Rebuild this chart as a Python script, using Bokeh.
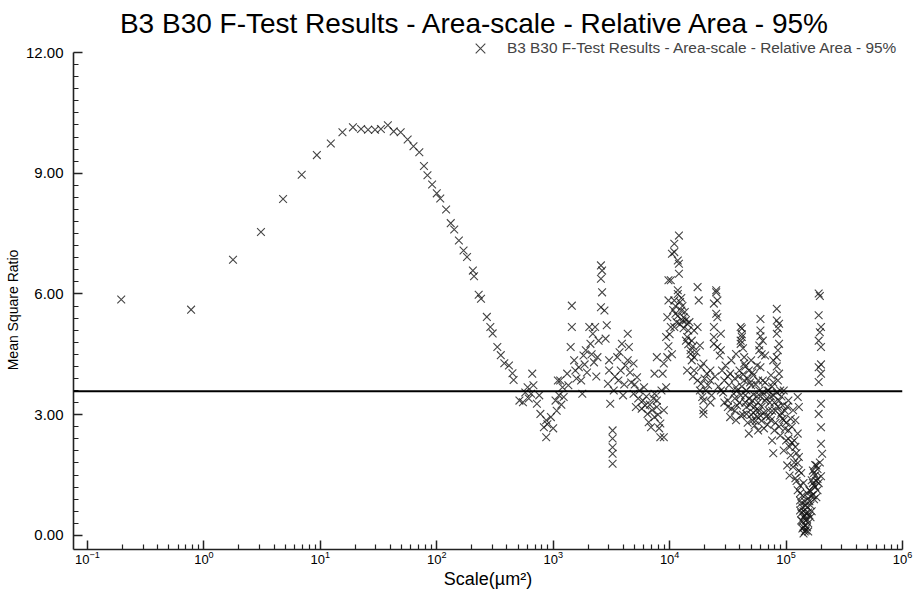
import numpy as np
from bokeh.plotting import figure
from bokeh.models import (Range1d, FixedTicker, LogTickFormatter, PrintfTickFormatter,
                          Span, Label, Legend, LegendItem, ColumnDataSource)
from bokeh.embed import file_html
from bokeh.resources import INLINE

# ---- data: (log10 of scale in um^2, mean square ratio) ----
curve_pts = [(-0.71, 5.86), (-0.11, 5.61), (0.25, 6.85), (0.49, 7.54), (0.68, 8.36), (0.84, 8.96),
             (0.97, 9.45), (1.09, 9.74), (1.19, 10.02), (1.28, 10.14), (1.35, 10.10), (1.41, 10.08),
             (1.47, 10.08), (1.52, 10.10), (1.58, 10.19), (1.63, 10.04), (1.69, 10.02), (1.75, 9.84),
             (1.80, 9.67), (1.85, 9.52), (1.89, 9.18), (1.92, 8.95), (1.96, 8.72), (2.00, 8.50),
             (2.03, 8.37), (2.08, 8.10), (2.12, 7.76), (2.15, 7.60), (2.19, 7.33), (2.23, 7.08),
             (2.26, 6.92), (2.31, 6.58), (2.32, 6.44), (2.36, 5.98), (2.38, 5.88), (2.43, 5.43),
             (2.46, 5.18), (2.48, 5.02), (2.52, 4.68), (2.55, 4.48), (2.58, 4.28), (2.62, 4.22),
             (2.65, 4.03), (2.66, 3.86)]

mid_pts = [(2.71, 3.35), (2.74, 3.31), (2.76, 3.55), (2.78, 3.68), (2.79, 3.40), (2.81, 3.52), (2.82, 4.02),
           (2.83, 3.73), (2.86, 3.27), (2.88, 3.48), (2.89, 3.02), (2.92, 2.69), (2.94, 2.86), (2.94, 2.44),
           (2.95, 2.76), (2.98, 2.94), (3.00, 2.66), (3.02, 3.35), (3.04, 3.85), (3.05, 3.48), (3.03, 3.10),
           (3.07, 3.25), (3.06, 3.85), (3.08, 3.68), (3.09, 3.44), (3.12, 4.02), (3.13, 3.73), (3.15, 4.68),
           (3.16, 5.18), (3.16, 5.71), (3.18, 4.35), (3.19, 4.10), (3.22, 4.18), (3.24, 3.85), (3.25, 3.52),
           (3.26, 4.47), (3.28, 4.60), (3.29, 4.05), (3.31, 5.18), (3.32, 4.76), (3.34, 5.01), (3.35, 4.30),
           (3.36, 5.18), (3.38, 4.43), (3.39, 4.84), (3.41, 6.71), (3.42, 6.58), (3.41, 6.38), (3.42, 6.04),
           (3.41, 5.67), (3.44, 5.59), (3.45, 4.89), (3.46, 5.22), (3.48, 4.35), (3.47, 3.77), (3.49, 3.27),
           (3.48, 4.10), (3.51, 2.61), (3.51, 2.19), (3.51, 2.03), (3.51, 1.78), (3.51, 2.41), (3.52, 3.60),
           (3.55, 4.43), (3.56, 3.85), (3.58, 4.10), (3.59, 4.76), (3.60, 3.48), (3.62, 4.22), (3.64, 5.01),
           (3.65, 4.68), (3.64, 4.35), (3.67, 3.80), (3.69, 4.27), (3.72, 3.93), (3.69, 3.52), (3.71, 3.19),
           (3.73, 3.40), (3.77, 3.35), (3.78, 3.68), (3.79, 3.23), (3.81, 3.02), (3.82, 2.81), (3.84, 2.69),
           (3.85, 3.11), (3.87, 2.94), (3.87, 4.02), (3.87, 3.52), (3.89, 3.35), (3.89, 4.43), (3.89, 3.19),
           (3.91, 2.66), (3.92, 2.44), (3.92, 2.78), (3.94, 4.02), (3.95, 4.27), (3.95, 3.11), (3.95, 2.44)]

peak_pts = [(3.97, 3.68), (3.97, 4.93), (3.98, 4.43), (3.98, 5.42), (3.99, 6.34), (3.99, 5.84), (4.01, 6.34),
            (4.01, 5.18), (4.02, 7.00), (4.04, 7.25), (4.04, 7.04), (4.04, 5.84), (4.04, 5.18), (4.05, 5.51),
            (4.07, 6.83), (4.07, 6.09), (4.07, 6.00), (4.08, 7.45), (4.08, 6.75), (4.08, 6.50), (4.10, 5.59),
            (4.11, 5.34), (4.12, 5.42), (4.14, 4.84), (4.15, 5.26), (4.15, 4.93), (4.15, 4.10), (4.16, 5.09),
            (4.18, 4.60), (4.18, 4.51), (4.19, 4.84), (4.21, 4.43), (4.21, 4.10), (4.21, 5.09), (4.24, 6.17),
            (4.25, 5.84), (4.24, 5.18), (4.24, 3.85), (4.26, 4.72), (4.03, 5.60), (4.06, 5.30), (4.09, 5.80),
            (4.11, 5.70), (4.13, 5.55), (4.00, 5.00), (3.99, 4.70), (4.02, 4.50)]

high_pts = [(4.27, 4.18), (4.27, 3.77), (4.28, 3.44), (4.29, 3.02), (4.29, 4.27), (4.29, 3.35), (4.29, 3.11),
            (4.31, 3.60), (4.32, 4.02), (4.33, 3.73), (4.35, 4.10), (4.35, 3.85), (4.36, 3.48), (4.38, 4.93),
            (4.38, 5.76), (4.38, 5.18), (4.38, 4.76), (4.40, 6.09), (4.40, 6.04), (4.40, 5.51), (4.41, 5.84),
            (4.41, 5.42), (4.41, 4.68), (4.43, 4.47), (4.44, 5.01), (4.44, 4.60), (4.45, 4.10), (4.47, 3.85),
            (4.46, 3.55), (4.48, 4.22), (4.50, 3.35), (4.50, 3.19), (4.51, 3.73), (4.52, 2.94), (4.52, 4.02),
            (4.53, 4.35), (4.55, 3.52), (4.56, 3.90), (4.57, 3.68), (4.57, 4.51), (4.57, 2.86), (4.58, 3.23),
            (4.61, 5.18), (4.61, 4.84), (4.61, 4.76), (4.61, 3.48), (4.61, 2.98), (4.44, 3.60), (4.47, 3.30),
            (4.50, 3.95), (4.53, 3.15), (4.56, 3.40), (4.59, 3.95), (4.35, 3.30), (4.39, 3.95), (4.42, 3.70),
            (4.30, 3.90), (4.20, 3.95), (4.23, 4.55), (4.26, 3.60),
            (4.62, 5.14), (4.62, 4.93), (4.64, 4.43), (4.64, 4.27), (4.64, 3.85), (4.65, 3.48), (4.66, 3.19),
            (4.66, 3.02), (4.68, 2.53), (4.68, 4.10), (4.70, 4.35), (4.70, 3.73), (4.71, 2.86), (4.71, 3.35),
            (4.72, 3.98), (4.73, 2.73), (4.74, 3.11), (4.75, 4.22), (4.76, 2.61), (4.77, 4.60), (4.77, 3.60),
            (4.78, 5.38), (4.78, 5.09), (4.78, 4.18), (4.78, 2.98), (4.80, 4.84), (4.80, 3.85), (4.81, 2.66),
            (4.82, 3.35), (4.82, 4.47), (4.84, 3.60), (4.85, 3.11), (4.87, 3.98), (4.87, 2.86), (4.88, 2.36),
            (4.89, 3.48), (4.89, 4.35), (4.89, 2.04), (4.90, 2.61), (4.92, 5.63), (4.92, 5.01), (4.92, 4.43),
            (4.92, 5.34), (4.93, 3.85), (4.94, 5.26), (4.94, 4.76), (4.94, 4.02), (4.94, 3.35), (4.95, 2.98),
            (4.95, 3.60), (4.95, 2.48), (4.97, 3.23), (4.98, 2.86), (4.98, 2.11), (5.00, 2.36), (5.01, 1.74),
            (5.02, 3.35), (5.02, 2.61), (5.03, 1.49), (5.04, 1.99), (4.66, 3.60), (4.69, 3.25), (4.72, 3.05),
            (4.74, 2.85), (4.75, 3.45), (4.79, 3.20), (4.83, 2.95), (4.86, 3.30), (4.88, 3.70), (4.91, 3.10),
            (4.96, 3.05), (4.99, 2.65), (5.03, 2.20), (5.05, 2.70), (4.78, 4.95), (4.77, 4.72), (4.79, 4.50),
            (4.93, 5.15), (4.93, 4.60), (4.92, 4.20), (4.63, 4.65), (4.62, 5.00)]

dip_pts = [(5.06, 3.11), (5.07, 2.36), (5.07, 1.81), (5.08, 2.86), (5.08, 1.42), (5.10, 3.44), (5.10, 2.53),
           (5.10, 1.12), (5.11, 1.61), (5.11, 3.19), (5.12, 0.87), (5.12, 1.24), (5.12, 0.62), (5.13, 0.37),
           (5.14, 0.99), (5.14, 0.17), (5.15, 0.05), (5.16, 0.50), (5.16, 0.25), (5.17, 0.12), (5.17, 0.37),
           (5.17, 0.75), (5.19, 0.57), (5.19, 0.92), (5.20, 1.12), (5.21, 0.75), (5.22, 1.37), (5.22, 0.99),
           (5.23, 1.61), (5.24, 1.24), (5.25, 1.49), (5.26, 1.74), (5.27, 1.12), (5.28, 6.01), (5.28, 5.47),
           (5.30, 5.18), (5.28, 4.84), (5.30, 4.68), (5.28, 4.18), (5.30, 4.02), (5.28, 3.81), (5.30, 3.27),
           (5.28, 3.02), (5.30, 2.69), (5.30, 2.28), (5.31, 2.03), (5.29, 1.81), (5.30, 1.47), (5.09, 2.05),
           (5.11, 1.95), (5.13, 1.55), (5.15, 1.30), (5.18, 1.05), (5.21, 0.45), (5.15, 0.60), (5.14, 0.35),
           (5.16, 0.10), (5.18, 0.20), (5.19, 0.30), (5.23, 1.00), (5.25, 1.20), (5.26, 0.95), (5.27, 1.40),
           (5.29, 5.95), (5.29, 5.05), (5.30, 4.25)]

dense_pts = [(4.56, 3.10), (4.58, 3.60), (4.60, 3.30), (4.60, 4.10), (4.62, 3.70), (4.63, 3.00), (4.63, 4.00),
             (4.65, 3.30), (4.65, 4.20), (4.67, 2.80), (4.67, 3.90), (4.68, 3.40), (4.69, 3.80), (4.70, 3.00),
             (4.71, 4.05), (4.72, 3.50), (4.73, 3.20), (4.74, 3.75), (4.75, 2.95), (4.76, 3.85), (4.76, 3.30),
             (4.77, 3.10), (4.78, 3.45), (4.79, 2.85), (4.80, 3.55), (4.81, 3.05), (4.82, 3.80), (4.83, 3.40),
             (4.84, 2.75), (4.85, 3.60), (4.86, 2.95), (4.87, 3.45), (4.88, 3.10), (4.89, 3.80), (4.90, 3.30),
             (4.91, 2.80), (4.92, 3.55), (4.93, 3.20), (4.94, 2.70), (4.96, 3.45), (4.97, 2.90), (4.98, 3.60),
             (4.99, 3.10), (5.00, 2.80), (5.01, 3.20), (5.02, 2.40), (5.04, 2.90), (5.05, 2.30), (5.06, 1.70),
             (5.08, 2.20), (5.09, 1.35), (5.10, 1.80), (5.12, 1.05), (5.13, 0.80), (5.13, 0.55), (5.14, 0.70),
             (5.15, 0.45), (5.15, 0.20), (5.16, 0.85), (5.17, 0.55), (5.18, 0.40), (5.18, 0.70), (5.19, 0.10),
             (5.20, 0.50), (5.20, 0.85), (5.21, 1.10), (5.22, 0.60), (5.23, 1.30), (5.24, 0.90), (5.24, 1.55),
             (5.25, 1.75), (5.26, 1.35), (5.27, 1.65), (5.28, 1.30), (4.05, 5.70), (4.07, 5.45), (4.09, 5.25),
             (4.10, 5.90), (4.12, 5.15), (4.14, 5.35), (4.16, 4.75), (4.17, 5.30), (4.19, 4.35), (4.20, 4.70),
             (3.20, 3.90), (3.27, 4.25), (3.33, 4.50), (3.37, 3.95), (3.53, 3.95), (3.57, 4.55), (3.61, 3.75),
             (3.66, 4.05), (3.70, 3.75), (3.74, 3.60), (3.76, 3.15), (3.80, 3.45), (3.83, 3.25), (3.86, 3.40),
             (3.90, 3.00), (3.93, 3.60)]

critical_value = 3.58
series_name = "B3 B30 F-Test Results - Area-scale - Relative Area - 95%"
title_text = "B3 B30 F-Test Results - Area-scale - Relative Area - 95%"
x_title = "Scale(\u00b5m\u00b2)"
y_title = "Mean Square Ratio"
y_major = [0, 3, 6, 9, 12]
x_major = [0.1, 1, 10, 100, 1000, 10000, 100000, 1000000]

all_pts = curve_pts + mid_pts + peak_pts + high_pts + dip_pts + dense_pts
log_scale = [p_[0] for p_ in all_pts]
ratio = [p_[1] for p_ in all_pts]
scale = [10 ** v for v in log_scale]

FONT = "Liberation Sans"
W, H = 915, 593
LEFT, RIGHT, BOTTOM = 73, 13, 44
FRAME_H = H - BOTTOM                     # frame runs from the canvas top to the x axis
PX_PER_UNIT = (FRAME_H - 52) / 12.35     # 12.00 sits 52 px below the canvas top
Y_TOP = 12 + 52 / PX_PER_UNIT

p = figure(width=W, height=H, x_axis_type="log",
           x_range=Range1d(10 ** -1.12, 1e6), y_range=Range1d(-0.35, Y_TOP),
           output_backend="svg", toolbar_location=None,
           min_border_left=LEFT, min_border_right=RIGHT, min_border_top=0, min_border_bottom=BOTTOM)
p.outline_line_color = None
p.grid.visible = False
p.background_fill_color = "white"
p.border_fill_color = "white"

src = ColumnDataSource(dict(x=scale, y=ratio))
r = p.scatter("x", "y", source=src, marker="x", size=11, line_color="#111111", line_alpha=0.78, line_width=1.1)

p.add_layout(Span(location=critical_value, dimension="width", line_color="black", line_width=2))

# axes
minor_x = [m * 10.0 ** e for e in range(-1, 6) for m in range(2, 10)]
p.xaxis.ticker = FixedTicker(ticks=x_major, minor_ticks=minor_x)
p.xaxis.formatter = LogTickFormatter()
minor_y = [round(0.3 * i, 2) for i in range(1, 40) if i % 10 != 0]
p.yaxis.ticker = FixedTicker(ticks=y_major, minor_ticks=minor_y)
p.yaxis.formatter = PrintfTickFormatter(format="%.2f")
p.yaxis.bounds = (-0.35, 12)

for ax in (p.xaxis, p.yaxis):
    ax.axis_line_color = "#222222"
    ax.axis_line_width = 1.6
    ax.major_tick_line_color = "#222222"
    ax.major_tick_line_width = 1.5
    ax.minor_tick_line_color = "#222222"
    ax.minor_tick_line_width = 1.2
    ax.major_tick_in = 9
    ax.major_tick_out = 0
    ax.minor_tick_in = 5
    ax.minor_tick_out = 0
    ax.major_label_text_font = FONT
    ax.major_label_text_color = "black"
    ax.axis_label_text_font = FONT
    ax.axis_label_text_font_style = "normal"
    ax.axis_label_text_color = "black"
p.yaxis.major_label_text_font_size = "15px"
p.yaxis.major_label_standoff = 10
# trailing no-break spaces move the centred, rotated label down to where the reference has it
p.yaxis.axis_label = y_title + "\u00a0" * 18
p.yaxis.axis_label_text_font_size = "14px"
p.yaxis.axis_label_standoff = 2
p.xaxis.major_label_text_font_size = "13px"
p.xaxis.major_label_standoff = 1
p.xaxis.axis_label = x_title
p.xaxis.axis_label_text_font_size = "18px"
p.xaxis.axis_label_standoff = 2

# title placed inside the (tall) frame, above the 12.00 line
p.add_layout(Label(x=475 - LEFT, y=FRAME_H - 22.5, x_units="screen", y_units="screen", text=title_text,
                   text_font=FONT, text_font_size="28px", text_align="center",
                   text_baseline="alphabetic", text_color="black"))

GLYPH = 34
legend = Legend(items=[LegendItem(label=series_name, renderers=[r])],
                location=(480 - GLYPH // 2 - LEFT, FRAME_H - 48 - GLYPH // 2),
                border_line_color=None, background_fill_alpha=0, padding=0, margin=0,
                label_text_font=FONT, label_text_font_size="15.4px", label_standoff=10,
                glyph_width=GLYPH, glyph_height=GLYPH, label_height=GLYPH)
p.add_layout(legend)

open("out.html", "w").write(file_html(p, INLINE))
